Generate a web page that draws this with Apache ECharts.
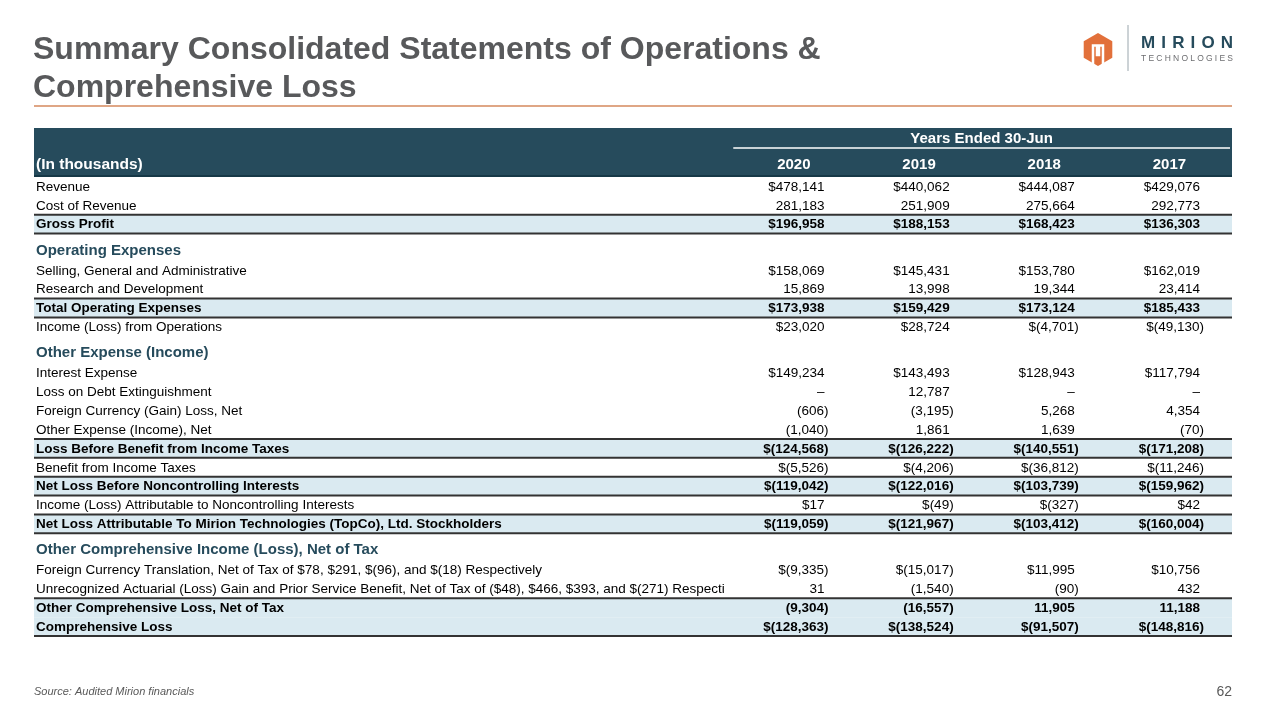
<!DOCTYPE html>
<html><head><meta charset="utf-8">
<script src="https://cdn.jsdelivr.net/npm/echarts@6/dist/echarts.min.js"></script>
<style>html,body{margin:0;padding:0;background:#fff}#c{width:1280px;height:720px}</style>
</head><body><div id="c"></div>
<script>
// ---------- DATA ----------
const titleText = 'Summary Consolidated Statements of Operations &\nComprehensive Loss';
const headerGroupLabel = 'Years Ended 30-Jun';
const headerRowLabel = '(In thousands)';
const years = ['2020', '2019', '2018', '2017'];
const rowLabels = [
  'Revenue',
  'Cost of Revenue',
  'Gross Profit',
  'Operating Expenses',
  'Selling, General and Administrative',
  'Research and Development',
  'Total Operating Expenses',
  'Income (Loss) from Operations',
  'Other Expense (Income)',
  'Interest Expense',
  'Loss on Debt Extinguishment',
  'Foreign Currency (Gain) Loss, Net',
  'Other Expense (Income), Net',
  'Loss Before Benefit from Income Taxes',
  'Benefit from Income Taxes',
  'Net Loss Before Noncontrolling Interests',
  'Income (Loss) Attributable to Noncontrolling Interests',
  'Net Loss Attributable To Mirion Technologies (TopCo), Ltd. Stockholders',
  'Other Comprehensive Income (Loss), Net of Tax',
  'Foreign Currency Translation, Net of Tax of $78, $291, $(96), and $(18) Respectively',
  'Unrecognized Actuarial (Loss) Gain and Prior Service Benefit, Net of Tax of ($48), $466, $393, and $(271) Respectively',
  'Other Comprehensive Loss, Net of Tax',
  'Comprehensive Loss'
];
// R = regular line, T = total (bold, shaded), S = section heading
const rowTypes = ['R','R','T','S','R','R','T','R','S','R','R','R','R','T','R','T','R','T','S','R','R','T','T'];
const dollarRows = [1,0,1,0,1,0,1,1,0,1,0,0,0,1,1,1,1,1,0,1,0,0,1];
const v2020 = [478141, 281183, 196958, null, 158069, 15869, 173938, 23020, null, 149234, 0, -606, -1040, -124568, -5526, -119042, 17, -119059, null, -9335, 31, -9304, -128363];
const v2019 = [440062, 251909, 188153, null, 145431, 13998, 159429, 28724, null, 143493, 12787, -3195, 1861, -126222, -4206, -122016, -49, -121967, null, -15017, -1540, -16557, -138524];
const v2018 = [444087, 275664, 168423, null, 153780, 19344, 173124, -4701, null, 128943, 0, 5268, 1639, -140551, -36812, -103739, -327, -103412, null, 11995, -90, 11905, -91507];
const v2017 = [429076, 292773, 136303, null, 162019, 23414, 185433, -49130, null, 117794, 0, 4354, -70, -171208, -11246, -159962, 42, -160004, null, 10756, 432, 11188, -148816];
const sourceNote = 'Source: Audited Mirion financials';
const pageNumber = '62';

// ---------- LAYOUT / STYLE ----------
const FONT = '"Liberation Sans", Arial, sans-serif';
const NAVY = '#264b5c';
const SHADE = '#daeaf1';
const RULE = '#333333';
const LABEL_U = 5.57;            // label column width (in year-column units)
const X_MAX = LABEL_U + years.length;
const HEAD_SPLIT_U = 1.06;
const HEAD_U = 2.6;
const SECTION_U = 1.45;
const values = [v2020, v2019, v2018, v2017];

const rowH = rowTypes.map(t => t === 'S' ? SECTION_U : 1);
const rowStart = [];
let acc = HEAD_U;
rowH.forEach((h, i) => { rowStart.push(acc); acc += h; });
const Y_MAX = acc;

function fmt(v, dollar) {
  if (v === null || v === undefined) return '';
  if (v === 0) return '\u2013';
  const s = Math.abs(v).toLocaleString('en-US');
  const d = dollar ? '$' : '';
  return v < 0 ? d + '(' + s + ')' : d + s;
}
const isT = i => rowTypes[i] === 'T';

function renderHeader(params, api) {
  const tl = api.coord([0, 0]);
  const br = api.coord([X_MAX, HEAD_U]);
  const left = tl[0], top = tl[1], right = br[0], bottom = br[1];
  const ySplit = api.coord([0, HEAD_SPLIT_U])[1];
  const yearsLeft = api.coord([LABEL_U, 0])[0];
  const ch = [];
  ch.push({type: 'rect', shape: {x: left, y: top, width: right - left, height: bottom - top}, style: {fill: NAVY}});
  ch.push({type: 'text', style: {text: headerGroupLabel, x: (yearsLeft + right) / 2, y: (top + ySplit) / 2 + 1,
    align: 'center', verticalAlign: 'middle', fill: '#fff', fontSize: 15, fontWeight: 'bold', fontFamily: FONT}});
  ch.push({type: 'line', shape: {x1: yearsLeft + 2, y1: ySplit, x2: right - 2, y2: ySplit}, style: {stroke: '#fff', lineWidth: 1.5}});
  const yMid = (ySplit + bottom) / 2 + 2;
  ch.push({type: 'text', style: {text: headerRowLabel, x: left + 2, y: yMid, align: 'left', verticalAlign: 'middle',
    fill: '#fff', fontSize: 15.5, fontWeight: 'bold', fontFamily: FONT}});
  years.forEach((yr, j) => {
    const cx = (api.coord([LABEL_U + j, 0])[0] + api.coord([LABEL_U + j + 1, 0])[0]) / 2;
    ch.push({type: 'text', style: {text: yr, x: cx, y: yMid, align: 'center', verticalAlign: 'middle',
      fill: '#fff', fontSize: 15, fontWeight: 'bold', fontFamily: FONT}});
  });
  ch.push({type: 'line', shape: {x1: left, y1: bottom - 1, x2: right, y2: bottom - 1}, style: {stroke: '#163847', lineWidth: 2}});
  return {type: 'group', children: ch};
}

function renderRow(params, api) {
  const i = api.value(3);
  const tl = api.coord([0, api.value(1)]);
  const br = api.coord([X_MAX, api.value(2)]);
  const left = tl[0], top = tl[1], right = br[0], bottom = br[1];
  const type = rowTypes[i];
  const labelRight = api.coord([LABEL_U, 0])[0];
  const ch = [];
  if (type === 'T') {
    ch.push({type: 'rect', shape: {x: left, y: top, width: right - left, height: bottom - top}, style: {fill: SHADE}});
  }
  const yMid = type === 'S' ? top + 0.62 * (bottom - top) : (top + bottom) / 2 + 0.5;
  ch.push({type: 'text', style: {
    text: rowLabels[i], x: left + 2, y: yMid, align: 'left', verticalAlign: 'middle',
    fill: type === 'S' ? NAVY : '#000', fontFamily: FONT,
    fontSize: type === 'S' ? 15 : 13.5, fontWeight: type === 'R' ? 'normal' : 'bold',
    width: labelRight - left - 2, overflow: 'truncate', ellipsis: ''
  }});
  if (type !== 'S') {
    values.forEach((arr, j) => {
      const s = fmt(arr[i], dollarRows[i]);
      const colRight = api.coord([LABEL_U + j + 1, 0])[0];
      const ax = colRight - (s.endsWith(')') ? 28 : 32);
      ch.push({type: 'text', style: {text: s, x: ax, y: yMid, align: 'right', verticalAlign: 'middle',
        fill: '#000', fontFamily: FONT, fontSize: 13.5, fontWeight: type === 'T' ? 'bold' : 'normal'}});
    });
  }
  if (i > 0 && isT(i) !== isT(i - 1)) {
    ch.push({type: 'line', z2: 10, shape: {x1: left, y1: top, x2: right, y2: top}, style: {stroke: RULE, lineWidth: 2}});
  }
  if (i === rowLabels.length - 1 && isT(i)) {
    ch.push({type: 'line', z2: 10, shape: {x1: left, y1: bottom, x2: right, y2: bottom}, style: {stroke: RULE, lineWidth: 2}});
  }
  return {type: 'group', children: ch};
}

// letter-spaced text helper for the logo wordmark
const mctx = document.createElement('canvas').getContext('2d');
function spaced(text, x0, totalW, yMid, font, color) {
  mctx.font = font;
  const ws = text.split('').map(c => mctx.measureText(c).width);
  const sum = ws.reduce((a, b) => a + b, 0);
  const gap = (totalW - sum) / (text.length - 1);
  let x = x0;
  return text.split('').map((c, k) => {
    const el = {type: 'text', x: x, y: yMid, style: {text: c, font: font, fill: color, verticalAlign: 'middle', align: 'left'}};
    x += ws[k] + gap;
    return el;
  });
}

const hx = 1098, hy = 49.5, hr = 16.5;
const hex = [0, 1, 2, 3, 4, 5].map(k => {
  const a = -Math.PI / 2 + k * Math.PI / 3;
  return [hx + hr * Math.cos(a), hy + hr * Math.sin(a)];
});

const chart = echarts.init(document.getElementById('c'), null, {renderer: 'canvas'});
chart.setOption({
  animation: false,
  backgroundColor: '#fff',
  title: {
    text: titleText, left: 33, top: 31, padding: 0,
    textStyle: {fontFamily: FONT, fontSize: 32, fontWeight: 'bold', color: '#58595b', lineHeight: 38}
  },
  grid: {left: 34, right: 48, top: 128, bottom: 84},
  xAxis: {type: 'value', min: 0, max: X_MAX, show: false},
  yAxis: {type: 'value', min: 0, max: Y_MAX, inverse: true, show: false},
  series: [
    {type: 'custom', renderItem: renderHeader, data: [[0, 0, HEAD_U, -1]], encode: {x: 0, y: [1, 2]}, silent: true},
    {type: 'custom', renderItem: renderRow,
     data: rowLabels.map((_, i) => [0, rowStart[i], rowStart[i] + rowH[i], i]),
     encode: {x: 0, y: [1, 2]}, silent: true}
  ],
  graphic: [
    {type: 'line', shape: {x1: 34, y1: 106, x2: 1232, y2: 106}, style: {stroke: '#d4895c', lineWidth: 1.5}},
    {type: 'polygon', shape: {points: hex}, style: {fill: '#e2703a'}},
    {type: 'polyline', shape: {points: [[1093, 66], [1093, 45.5], [1097, 45.5], [1097, 55], [1099, 55], [1099, 45.5], [1103, 45.5], [1103, 66]]},
     style: {stroke: '#fff', lineWidth: 2.5, fill: null}},
    {type: 'line', shape: {x1: 1128, y1: 25, x2: 1128, y2: 71}, style: {stroke: '#9aa6ad', lineWidth: 1}},
    ...spaced('MIRION', 1141, 92, 43, 'bold 17px ' + FONT, '#264b5c'),
    ...spaced('TECHNOLOGIES', 1141, 92, 59, '8.5px ' + FONT, '#6d6e71'),
    {type: 'text', x: 34, y: 692, style: {text: sourceNote, font: 'italic 11px ' + FONT, fill: '#595959', verticalAlign: 'middle'}},
    {type: 'text', x: 1232, y: 692, style: {text: pageNumber, font: '14px ' + FONT, fill: '#595959', align: 'right', verticalAlign: 'middle'}}
  ]
});
</script>
</body></html>
